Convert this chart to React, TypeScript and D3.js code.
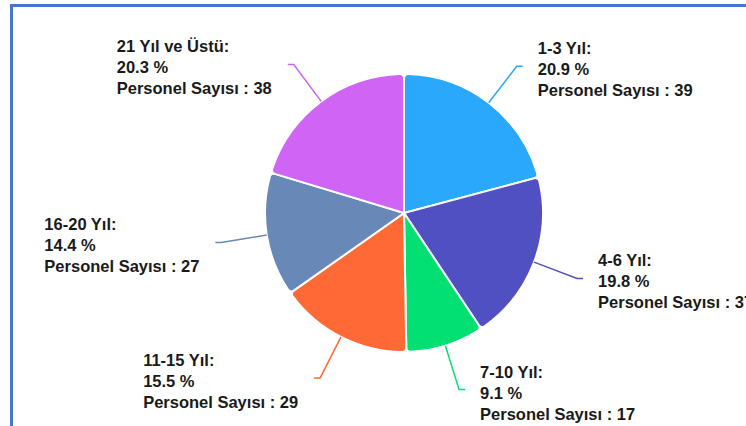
import React from "react";
import * as d3 from "d3";

const categories = ["1-3 Yıl", "4-6 Yıl", "7-10 Yıl", "11-15 Yıl", "16-20 Yıl", "21 Yıl ve Üstü"];
const values = [39, 37, 17, 29, 27, 38];
const colors = ["#2aa8fb", "#5150c2", "#02e073", "#fe6935", "#6888b8", "#d065f5"];

const W = 746;
const H = 426;
const CX = 404;
const CY = 213;
const R = 139;
const ELBOW_R = 185;
const FS = 16.5;
const FONT = `bold ${FS}px 'Liberation Sans', Arial, sans-serif`;

function measure(text: string): number {
  const c = document.createElement("canvas").getContext("2d");
  if (!c) return text.length * 8;
  c.font = FONT;
  return c.measureText(text).width;
}

export default function App() {
  const total = d3.sum(values);
  const pie = d3
    .pie<number>()
    .sort(null)
    .value((d) => d);
  const arcs = pie(values);
  const arc = d3
    .arc<d3.PieArcDatum<number>>()
    .innerRadius(0)
    .outerRadius(R)
    .cornerRadius(4);

  return (
    <svg
      width={W}
      height={H}
      style={{ position: "absolute", left: 0, top: 0, background: "#fff" }}
      fontFamily="'Liberation Sans', Arial, sans-serif"
    >
      <rect x={0} y={0} width={W} height={H} fill="#fff" />
      <line x1={11.5} y1={4} x2={11.5} y2={H} stroke="#4775d1" strokeWidth={3} />
      <line x1={10} y1={5.5} x2={W} y2={5.5} stroke="#4775d1" strokeWidth={3} />
      <g transform={`translate(${CX},${CY})`}>
        {arcs.map((a, i) => (
          <path key={i} d={arc(a) || ""} fill={colors[i]} stroke="#fff" strokeWidth={2} />
        ))}
        {arcs.map((a, i) => {
          const mid = (a.startAngle + a.endAngle) / 2;
          const sx = Math.sin(mid) * R;
          const sy = -Math.cos(mid) * R;
          const ex = Math.sin(mid) * ELBOW_R;
          const ey = -Math.cos(mid) * ELBOW_R;
          const right = Math.sin(mid) >= 0;
          const hx = ex + (right ? 6 : -6);
          const pct = ((values[i] / total) * 100).toFixed(1);
          const lines = [`${categories[i]}:`, `${pct} %`, `Personel Sayısı : ${values[i]}`];
          const bw = Math.max(...lines.map(measure));
          const tx = right ? hx + 15 : hx - 16 - bw;
          return (
            <g key={"l" + i}>
              <polyline
                points={`${sx},${sy} ${ex},${ey} ${hx},${ey}`}
                fill="none"
                stroke={colors[i]}
                strokeWidth={1.5}
              />
              <text x={tx} y={ey - 12} fontSize={FS} fontWeight="bold" fill="#1a1a1a">
                {lines.map((t, k) => (
                  <tspan key={k} x={tx} y={ey - 12 + k * 21}>
                    {t}
                  </tspan>
                ))}
              </text>
            </g>
          );
        })}
      </g>
    </svg>
  );
}
